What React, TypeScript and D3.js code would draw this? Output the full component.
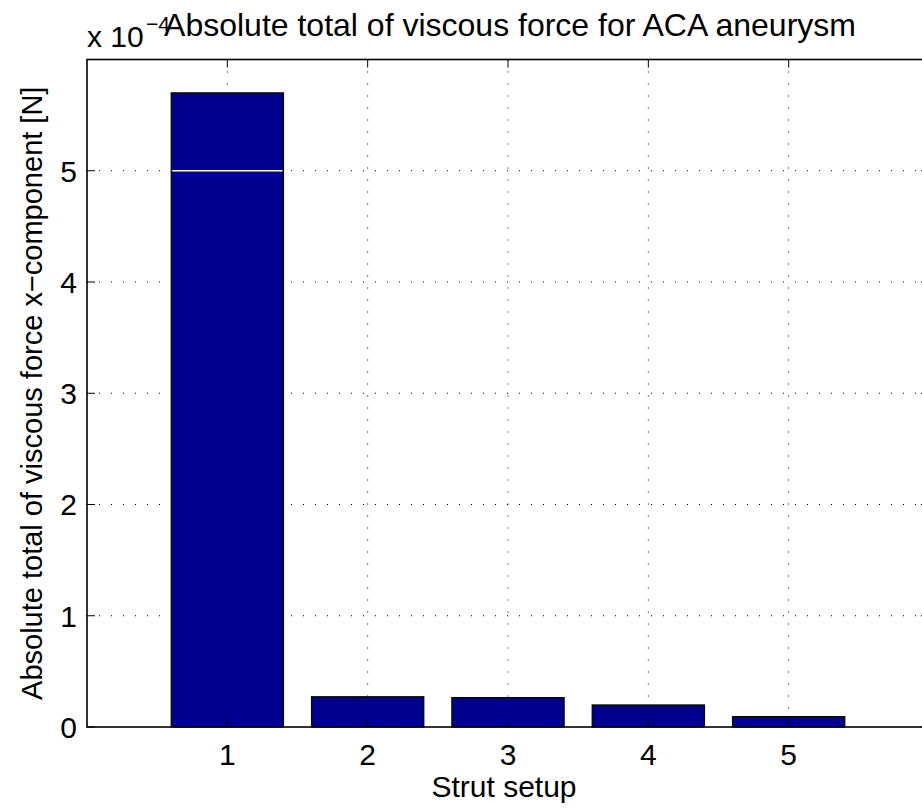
import React from "react";
import * as d3 from "d3";

const categories = [1, 2, 3, 4, 5];
const values = [5.70, 0.272, 0.264, 0.198, 0.093];
const yTicks = [0, 1, 2, 3, 4, 5];
const xTicks = [1, 2, 3, 4, 5];
const whiteGridTicks = [5];
const title = "Absolute total of viscous force for ACA aneurysm";
const xLabel = "Strut setup";
const yLabel = "Absolute total of viscous force x\u2212component [N]";

const W = 922, H = 808;
const left = 87, top = 59.5, bottom = 727, right = 929;
const font = "'Liberation Sans', Arial, Helvetica, sans-serif";

export default function App() {
  const x = d3.scaleLinear().domain([0, 6]).range([left, right]);
  const y = d3.scaleLinear().domain([0, 6]).range([bottom, top]);
  const bw = (x(0.8) - x(0));
  const tickLen = 8;
  return (
    <svg width={W} height={H} style={{ position: "absolute", left: 0, top: 0, background: "#fff" }} fontFamily={font}>
      <rect x={0} y={0} width={W} height={H} fill="#fff" />
      {/* grid */}
      {yTicks.filter(t => t > 0).map(t => (
        <line key={"gy" + t} x1={left} x2={right} y1={y(t)} y2={y(t)} stroke="#000" strokeWidth={1} strokeDasharray="1,11" />
      ))}
      {xTicks.map(t => (
        <line key={"gx" + t} x1={x(t)} x2={x(t)} y1={top} y2={bottom} stroke="#000" strokeWidth={1} strokeDasharray="1,11" />
      ))}
      {/* bars */}
      {categories.map((c, i) => (
        <rect key={"b" + c} x={x(c) - bw / 2} y={y(values[i])} width={bw} height={y(0) - y(values[i])}
          fill="#00008F" stroke="#000" strokeWidth={1.2} />
      ))}
      {/* white grid artifact over bars */}
      {whiteGridTicks.map(t => categories.map((c, i) => values[i] > t ? (
        <line key={"w" + t + c} x1={x(c) - bw / 2 + 1} x2={x(c) + bw / 2 - 1} y1={y(t)} y2={y(t)} stroke="#fff" strokeWidth={1.3} />
      ) : null))}
      {/* ticks */}
      {yTicks.map(t => (
        <g key={"ty" + t}>
          <line x1={left} x2={left + tickLen} y1={y(t)} y2={y(t)} stroke="#000" strokeWidth={1} />
          <line x1={right} x2={right - tickLen} y1={y(t)} y2={y(t)} stroke="#000" strokeWidth={1} />
          <text x={77} y={y(t)} dy="0.36em" textAnchor="end" fontSize={30} fill="#000">{t}</text>
        </g>
      ))}
      {xTicks.map(t => (
        <g key={"tx" + t}>
          <line x1={x(t)} x2={x(t)} y1={bottom} y2={bottom - tickLen} stroke="#000" strokeWidth={1} />
          <line x1={x(t)} x2={x(t)} y1={top} y2={top + tickLen} stroke="#000" strokeWidth={1} />
          <text x={x(t)} y={765} textAnchor="middle" fontSize={30} fill="#000">{t}</text>
        </g>
      ))}
      {/* axes box */}
      <rect x={left} y={top} width={right - left} height={bottom - top} fill="none" stroke="#000" strokeWidth={1.6} />
      {/* exponent */}
      <text x={87} y={47} fontSize={30} fill="#000">x 10</text>
      <text x={146} y={31} fontSize={21} fill="#000">{"\u22124"}</text>
      {/* title */}
      <text x={510} y={36} textAnchor="middle" fontSize={32} fill="#000">{title}</text>
      {/* x label */}
      <text x={504} y={797} textAnchor="middle" fontSize={30} fill="#000">{xLabel}</text>
      {/* y label */}
      <text transform={`translate(42,${(top + bottom) / 2}) rotate(-90)`} textAnchor="middle" fontSize={29} fill="#000">{yLabel}</text>
    </svg>
  );
}
